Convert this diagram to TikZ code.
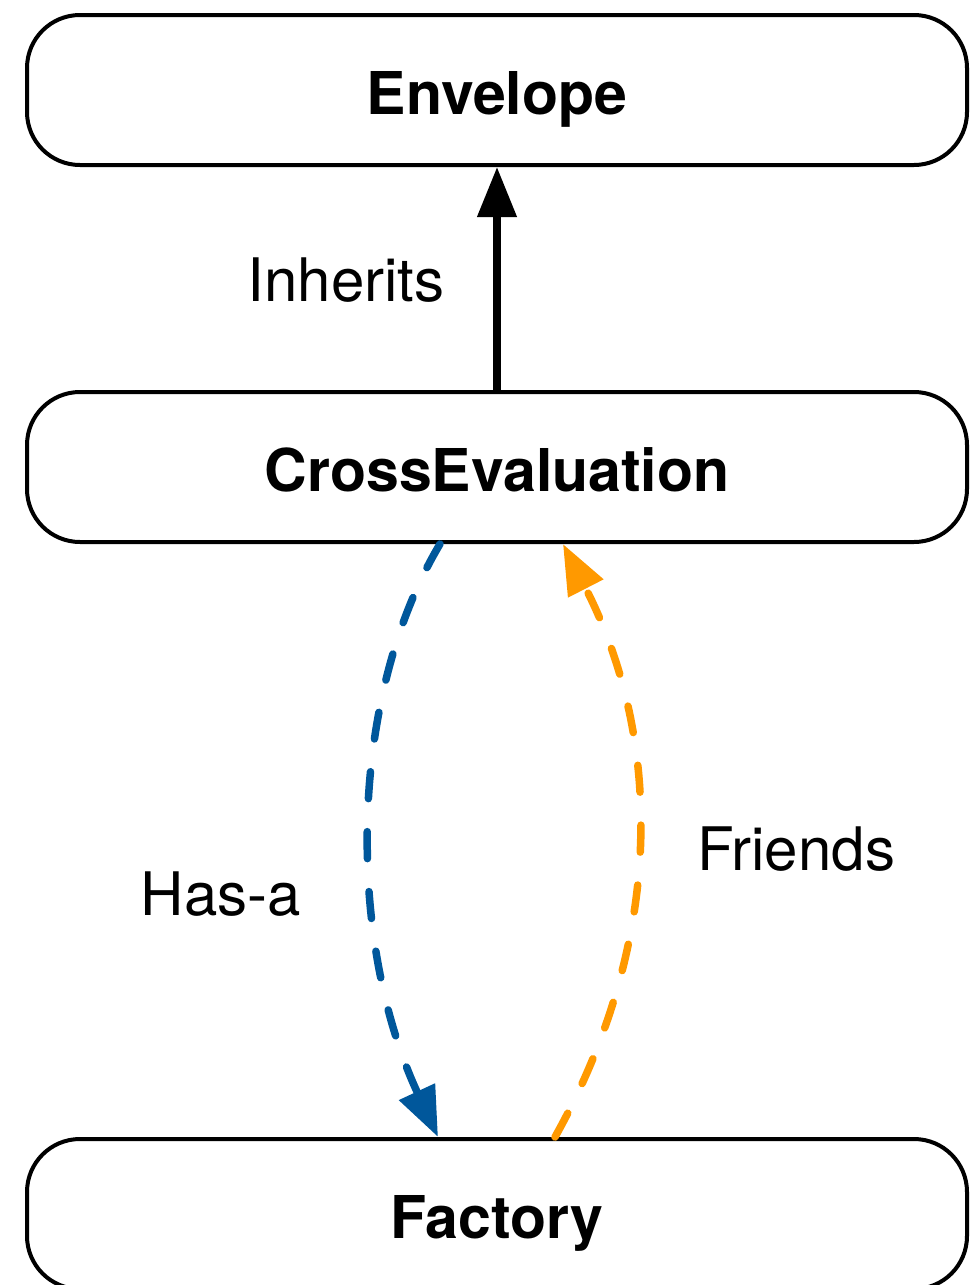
\documentclass[tikz,border=0pt]{standalone}
\usepackage{fontspec}
\setmainfont{TeX Gyre Heros}
\usetikzlibrary{arrows.meta}
\definecolor{hasblue}{RGB}{0,87,155}
\definecolor{friendorange}{RGB}{255,153,0}
\begin{document}
\begin{tikzpicture}[x=1pt,y=-1pt,
  classbox/.style={draw=black, fill=white, line width=4pt, rounded corners=53pt,
    minimum width=940pt, minimum height=150pt, inner sep=0pt,
    text height=48pt, text depth=0pt,
    font=\fontsize{59}{70}\selectfont\bfseries},
  tag/.style={anchor=base, inner sep=0pt, font=\fontsize{60}{72}\selectfont},
  relarrow/.style={line width=7.5pt, -{Triangle[length=50pt,width=38pt]}},
  dashrel/.style={relarrow, line cap=round, dash pattern=on 27pt off 33pt}]

\useasboundingbox (0,0) rectangle (971,1285);

% class boxes
\node[classbox] (envelope) at (497,90)   {Envelope};
\node[classbox] (cross)    at (497,467)  {CrossEvaluation};
\node[classbox] (factory)  at (497,1214) {Factory};

% inheritance
\draw[relarrow] (cross.north) -- (envelope.south);
\node[tag] (inh) at (346,301) {Inherits};

% has-a relation
\draw[dashrel, hasblue] ([xshift=-57pt]cross.south)
  .. controls +(-93,156) and +(-91,-196) .. ([xshift=-59pt]factory.north);
\node[tag] (hasa) at (221,915) {Has-a};

% friend relation
\draw[dashrel, friendorange] ([xshift=58pt]factory.north)
  .. controls +(109,-195) and +(101,197) .. ([xshift=66pt]cross.south);
\node[tag] (friends) at (796,870) {Friends};
\end{tikzpicture}
\end{document}
